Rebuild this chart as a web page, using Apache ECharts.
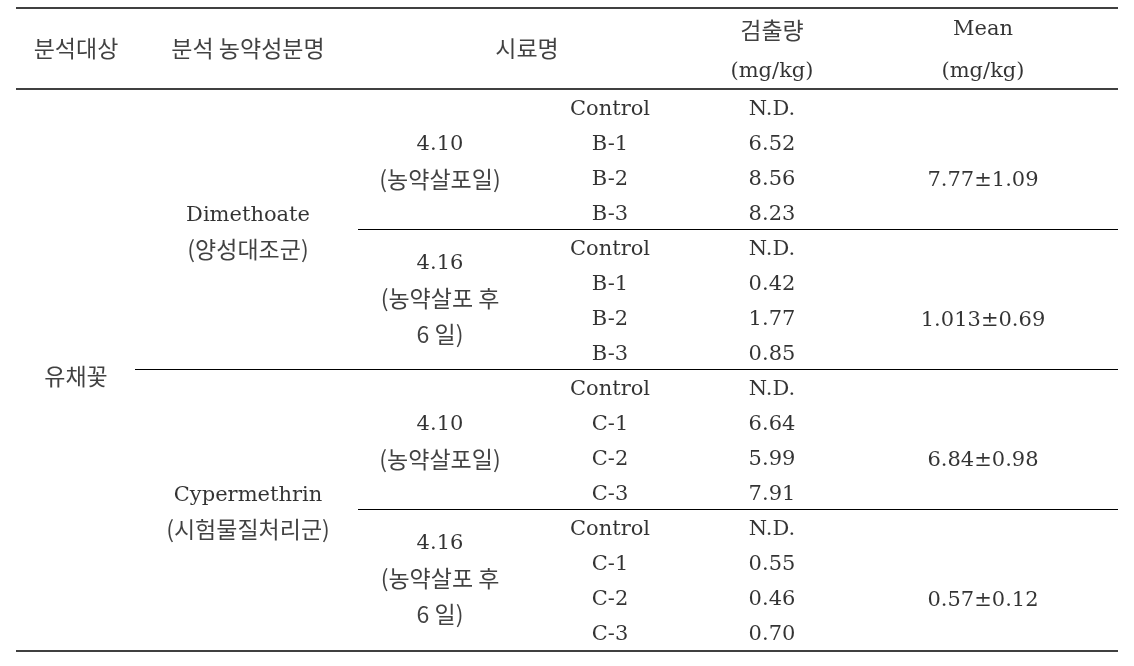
<!DOCTYPE html>
<html>
<head>
<meta charset="utf-8">
<script src="https://cdn.jsdelivr.net/npm/echarts@6/dist/echarts.min.js"></script>
<style>html,body{margin:0;padding:0;background:#fff}#c{width:1134px;height:666px}</style>
</head>
<body>
<div id="c"></div>
<script>
// ---- data ----
const headerTarget = '분석대상';
const headerPesticide = '분석 농약성분명';
const headerSample = '시료명';
const headerAmount = ['검출량', '(mg/kg)'];
const headerMean = ['Mean', '(mg/kg)'];
const analysisTarget = '유채꽃';
const pesticides = ['Dimethoate', 'Cypermethrin'];
const pesticideGroups = ['(양성대조군)', '(시험물질처리군)'];
const dates = ['4.10', '4.16', '4.10', '4.16'];
const dateNotes = [['(농약살포일)'], ['(농약살포 후', '6 일)'], ['(농약살포일)'], ['(농약살포 후', '6 일)']];
const sampleNames = ['Control', 'B-1', 'B-2', 'B-3', 'Control', 'B-1', 'B-2', 'B-3',
                     'Control', 'C-1', 'C-2', 'C-3', 'Control', 'C-1', 'C-2', 'C-3'];
const amounts = ['N.D.', '6.52', '8.56', '8.23', 'N.D.', '0.42', '1.77', '0.85',
                 'N.D.', '6.64', '5.99', '7.91', 'N.D.', '0.55', '0.46', '0.70'];
const means = ['7.77±1.09', '1.013±0.69', '6.84±0.98', '0.57±0.12'];

// ---- layout ----
const W = 1134, H = 666;
const rowY0 = 108, rowH = 35, rowsPerSection = 4;
const colX = { target: 76, pest: 248, date: 440, sample: 610, amount: 772, mean: 983 };
const lineLeft = 16, lineRight = 1118;
const latinShift = 2;
const rowY = i => rowY0 + rowH * i;
const sectionTop = s => rowY(s * rowsPerSection) - rowH / 2 - 1;

const latin = [];   // [x, y, text]
const korean = [];
const L = (x, y, t) => latin.push([x, y + latinShift, t]);
const K = (x, y, t) => korean.push([x, y, t]);

// header
K(colX.target, 48, headerTarget);
K(colX.pest, 48, headerPesticide);
K(527, 48, headerSample);
K(colX.amount, 30, headerAmount[0]);
L(colX.amount, 70, headerAmount[1]);
L(colX.mean, 28, headerMean[0]);
L(colX.mean, 70, headerMean[1]);

// body
K(colX.target, 376, analysisTarget);
pesticides.forEach((p, k) => {
  const top = sectionTop(k * 2);
  L(colX.pest, top + 124, p);
  K(colX.pest, top + 160, pesticideGroups[k]);
});
dates.forEach((d, s) => {
  const notes = dateNotes[s];
  const base = rowY(s * rowsPerSection);
  if (notes.length === 1) {
    L(colX.date, base + 35, d);
    K(colX.date, base + 71, notes[0]);
  } else {
    L(colX.date, base + 14, d);
    K(colX.date, base + 50, notes[0]);
    K(colX.date, base + 86, notes[1]);
  }
});
sampleNames.forEach((n, i) => L(colX.sample, rowY(i), n));
amounts.forEach((a, i) => L(colX.amount, rowY(i), a));
means.forEach((m, s) => L(colX.mean, rowY(s * rowsPerSection + 2) + 1, m));

// rules
const rules = [
  { y: 8, x1: lineLeft, x2: lineRight, w: 1.4 },
  { y: 89, x1: lineLeft, x2: lineRight, w: 1.4 },
  { y: sectionTop(1), x1: 358, x2: lineRight, w: 1.2 },
  { y: sectionTop(2), x1: 135, x2: lineRight, w: 1.2 },
  { y: sectionTop(3), x1: 358, x2: lineRight, w: 1.2 },
  { y: 651, x1: lineLeft, x2: lineRight, w: 1.4 }
];

const textSeries = (data, font, size, color) => ({
  type: 'scatter',
  data: data,
  symbolSize: 1,
  itemStyle: { color: 'rgba(0,0,0,0)' },
  silent: true,
  label: {
    show: true,
    position: 'inside',
    formatter: p => p.value[2],
    fontFamily: font,
    fontSize: size,
    color: color
  },
  labelLayout: { hideOverlap: false }
});

const series = [
  textSeries(latin, "'DejaVu Serif', 'Noto Sans CJK KR'", 21, '#000'),
  textSeries(korean, "'Noto Sans CJK KR'", 23, '#111')
];
rules.forEach(r => series.push({
  type: 'line',
  data: [[r.x1, r.y], [r.x2, r.y]],
  symbol: 'none',
  silent: true,
  lineStyle: { color: '#000', width: r.w }
}));

const chart = echarts.init(document.getElementById('c'), null, { renderer: 'canvas' });
chart.setOption({
  animation: false,
  backgroundColor: '#fff',
  grid: { left: 0, right: 0, top: 0, bottom: 0 },
  xAxis: { type: 'value', min: 0, max: W, show: false },
  yAxis: { type: 'value', min: 0, max: H, inverse: true, show: false },
  series: series
});
</script>
</body>
</html>
